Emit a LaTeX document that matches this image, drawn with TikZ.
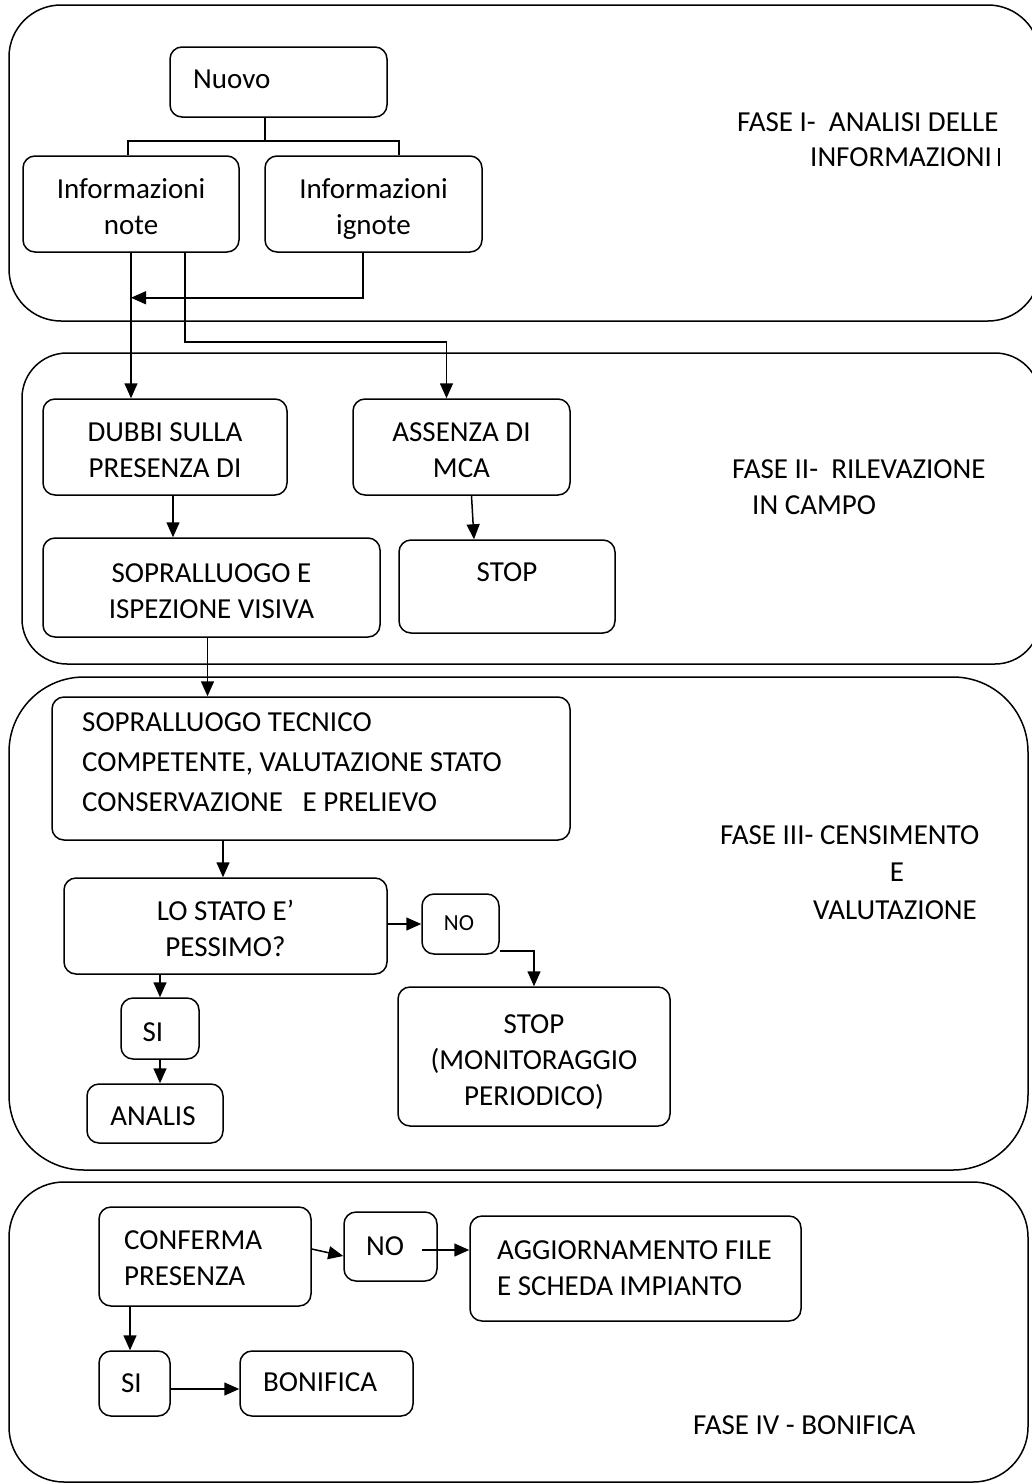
\documentclass[tikz,border=0pt]{standalone}
\usepackage{fontspec}
\setmainfont{Carlito}
\usetikzlibrary{arrows.meta}
\newcommand\ml[1]{\begin{tabular}[t]{@{}c@{}}#1\end{tabular}}
\newcommand\mll[1]{\begin{tabular}[t]{@{}l@{}}#1\end{tabular}}
\begin{document}
\begin{tikzpicture}[x=1pt,y=-1pt,
  box/.style={draw, line width=1.5pt, rounded corners=12pt, inner sep=0pt},
  lbl/.style={inner sep=0pt, anchor=base, font=\fontsize{29}{36}\selectfont},
  txt/.style={inner sep=0pt, align=left, font=\fontsize{29}{36}\selectfont},
  frame/.style={draw, line width=1.5pt},
  ln/.style={line width=1.5pt},
  arr/.style={line width=1.5pt, -{Triangle[length=15pt,width=13pt]}}]
\useasboundingbox (0,0) rectangle (1032,1484);
\clip (0,0) rectangle (1032,1484);
% phase frames
\draw[frame, rounded corners=52pt] (9,5) rectangle (1040,321);
\draw[frame, rounded corners=45pt] (22,353) rectangle (1040,664);
\draw[frame, rounded corners=75pt] (9,677) rectangle (1028,1170);
\draw[frame, rounded corners=55pt] (9,1182) rectangle (1028,1482);
% phase labels
\node[txt, anchor=west] (f1a) at (737,122) {FASE I-~~ANALISI DELLE};
\node[txt, anchor=west] (f1b) at (810,157) {INFORMAZIONI\hspace{6pt}\rule{1.8pt}{18.5pt}};
\node[txt, anchor=west] (f2a) at (732,469) {FASE II-~~RILEVAZIONE};
\node[txt, anchor=west] (f2b) at (752,505) {IN CAMPO};
\node[txt, anchor=west] (f3a) at (720,835) {FASE III- CENSIMENTO};
\node[txt] (f3b) at (897,872) {E};
\node[txt, anchor=west] (f3c) at (813,910) {VALUTAZIONE};
\node[lbl, anchor=base west] (f4a) at (693,1434) {FASE IV - BONIFICA};
% phase I
\node[box, minimum width=217pt, minimum height=70pt] (nuovo) at (278.5,82) {};
\node[lbl, anchor=base west] (nuovoT) at (193,88.3) {Nuovo};
\node[box, minimum width=216pt, minimum height=96pt] (note) at (131,204) {};
\node[lbl] (noteT) at ([yshift=5.5pt]note.center) {\ml{Informazioni\\note}};
\node[box, minimum width=217pt, minimum height=96pt] (ignote) at (373.5,204) {};
\node[lbl] (ignoteT) at ([yshift=5.5pt]ignote.center) {\ml{Informazioni\\ignote}};
% phase II
\node[box, minimum width=244pt, minimum height=96pt] (dubbi) at (165,447) {};
\node[lbl] (dubbiT) at ([yshift=5.5pt]dubbi.center) {\ml{DUBBI SULLA\\PRESENZA DI}};
\node[box, minimum width=217pt, minimum height=96pt] (assenza) at (461.5,447) {};
\node[lbl] (assenzaT) at ([yshift=5.5pt]assenza.center) {\ml{ASSENZA DI\\MCA}};
\node[box, minimum width=337pt, minimum height=99pt] (sopr) at (211.5,587.5) {};
\node[lbl] (soprT) at ([yshift=5.5pt]sopr.center) {\ml{SOPRALLUOGO E\\ISPEZIONE VISIVA}};
\node[box, minimum width=216pt, minimum height=93pt] (stopa) at (507,586.5) {};
\node[lbl] (stopaT) at ([yshift=5.5pt]stopa.center) {STOP};
% phase III
\node[box, minimum width=518pt, minimum height=143pt] (tecnico) at (311,768.5) {};
\node[txt, anchor=west, font=\fontsize{29}{40}\selectfont] (tecnicoT) at (82,762) {SOPRALLUOGO TECNICO\\COMPETENTE, VALUTAZIONE STATO\\CONSERVAZIONE~~~E PRELIEVO};
\node[box, minimum width=323pt, minimum height=96pt] (stato) at (225.5,926) {};
\node[lbl] (statoT) at ([yshift=5.5pt]stato.center) {\ml{LO STATO E’\\PESSIMO?}};
\node[box, minimum width=77pt, minimum height=60pt] (noa) at (460.5,924) {};
\node[lbl, font=\fontsize{23}{28}\selectfont] (noaT) at (459,930) {NO};
\node[box, minimum width=272pt, minimum height=139pt] (stopb) at (534,1056.5) {};
\node[lbl] (stopbT) at ([yshift=23.5pt]stopb.center) {\ml{STOP\\(MONITORAGGIO\\PERIODICO)}};
\node[box, minimum width=78pt, minimum height=61pt] (sia) at (160,1028.5) {};
\node[lbl] (siaT) at (153,1041.5) {SI};
\node[box, minimum width=136pt, minimum height=59pt] (analis) at (155,1113.5) {};
\node[lbl] (analisT) at (153,1125) {ANALIS};
% phase IV
\node[box, minimum width=212pt, minimum height=99pt] (conferma) at (205,1256.5) {};
\node[lbl, anchor=base west] (confermaT) at (124,1249) {\mll{CONFERMA\\PRESENZA}};
\node[box, minimum width=93pt, minimum height=69pt] (nob) at (390.5,1246.5) {};
\node[lbl] (nobT) at (385,1255) {NO};
\node[box, minimum width=331pt, minimum height=105pt] (aggiorn) at (635.5,1268.5) {};
\node[lbl, anchor=base west] (aggiornT) at (497,1259.5) {\mll{AGGIORNAMENTO FILE\\E SCHEDA IMPIANTO}};
\node[box, minimum width=71pt, minimum height=65pt] (sib) at (134.5,1383.5) {};
\node[lbl] (sibT) at (131.5,1392) {SI};
\node[box, minimum width=173pt, minimum height=65pt] (bonifica) at (326.5,1383.5) {};
\node[lbl, anchor=base west] (bonificaT) at (263,1391.5) {BONIFICA};
% connectors phase I
\coordinate (j1) at (265,141);
\draw[ln] (nuovo.south -| j1) -- (j1);
\draw[ln] (j1) -| ([xshift=-3pt]note.north);
\draw[ln] (j1) -| ([xshift=25.5pt]ignote.north);
\coordinate (ig) at ([xshift=-10.5pt]ignote.south);
\coordinate (mg) at ([yshift=-45pt]note.south);
\draw[arr] (ig) |- (mg);
\draw[arr] (note.south) -- (note.south |- dubbi.north);
\coordinate (n2) at ([xshift=54pt]note.south);
\coordinate (a2) at ([xshift=-15pt]assenza.north);
\draw[arr] (n2) -- ++(0,89) -| (a2);
% connectors phase II
\coordinate (d1) at ([xshift=8pt]dubbi.south);
\draw[arr] (d1) -- (d1 |- sopr.north);
\draw[arr] ([xshift=10pt]assenza.south) -- ([xshift=-33pt]stopa.north);
\coordinate (s1) at ([xshift=-4pt]sopr.south);
\draw[arr] (s1) -- (s1 |- tecnico.north);
% connectors phase III
\coordinate (t1) at ([xshift=-88pt]tecnico.south);
\draw[arr] (t1) -- (t1 |- stato.north);
\draw[arr] (stato.east |- noa.west) -- (noa.west);
\coordinate (na) at ([yshift=-27pt]noa.east);
\draw[arr] (na) -| (stopb.north);
\coordinate (st) at (sia.north |- stato.south);
\draw[arr] (st) -- (sia.north);
\draw[arr] (sia.south) -- (sia.south |- analis.north);
% connectors phase IV
\draw[arr] ([yshift=7.5pt]conferma.east) -- ([yshift=-9.5pt]nob.west);
\coordinate (n2o) at ([xshift=-16pt,yshift=-3.5pt]nob.east);
\draw[arr] (n2o) -- (n2o -| aggiorn.west);
\coordinate (c1) at ([xshift=-75pt]conferma.south);
\draw[arr] (c1) -- (c1 |- sib.north);
\coordinate (sb) at ([yshift=-5.5pt]sib.east);
\draw[arr] (sb) -- (sb -| bonifica.west);
\end{tikzpicture}
\end{document}
